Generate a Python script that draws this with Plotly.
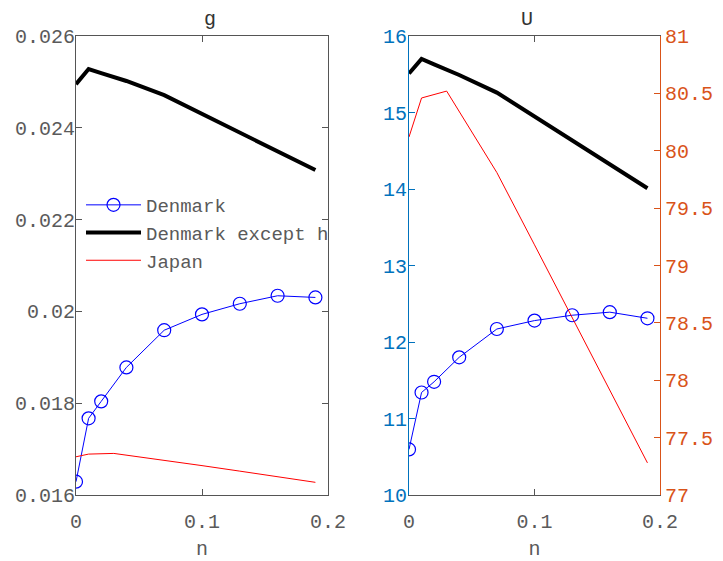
import plotly.graph_objects as go

# sample grid
n_dk = [0, 0.01, 0.02, 0.04, 0.07, 0.1, 0.13, 0.16, 0.19]
n_jp = [0, 0.01, 0.03, 0.07, 0.1, 0.13, 0.16, 0.19]

# growth rate g
g_denmark = [0.01629, 0.01767, 0.01804, 0.01878, 0.01959, 0.019935, 0.020167, 0.020341, 0.020304]
g_denmark_ex_h = [0.02495, 0.02528, 0.02519, 0.02502, 0.02471, 0.0243, 0.02388, 0.02347, 0.02308]
g_japan = [0.016833, 0.016891, 0.016906, 0.01676, 0.01664, 0.01652, 0.0164, 0.016276]

# welfare U
U_denmark = [10.596, 11.34, 11.48, 11.80, 12.17, 12.28, 12.35, 12.39, 12.31]
U_denmark_ex_h = [15.51, 15.70, 15.63, 15.49, 15.26, 14.95, 14.635, 14.32, 14.01]
U_japan = [80.12, 80.46, 80.52, 79.81, 79.18, 78.545, 77.91, 77.28]

FONT = "Liberation Mono, Courier New, monospace"
AX = "#555555"
TXT = "#5a5a5a"
BLUE_AX = "#0072BD"
ORANGE_AX = "#D95319"
W, H = 723, 561

fig = go.Figure()

# left panel: g
fig.add_trace(go.Scatter(x=n_dk, y=g_denmark, name="Denmark", mode="lines+markers",
                         line=dict(color="#0000FF", width=1),
                         marker=dict(symbol="circle-open", size=13, color="#0000FF", line=dict(width=1.2)),
                         xaxis="x", yaxis="y"))
fig.add_trace(go.Scatter(x=n_dk, y=g_denmark_ex_h, name="Denmark except h", mode="lines",
                         line=dict(color="#000000", width=4), xaxis="x", yaxis="y"))
fig.add_trace(go.Scatter(x=n_jp, y=g_japan, name="Japan", mode="lines",
                         line=dict(color="#FF0000", width=1), xaxis="x", yaxis="y"))

# right panel: U (Japan on the right-hand axis)
fig.add_trace(go.Scatter(x=n_dk, y=U_denmark, name="Denmark", mode="lines+markers", showlegend=False,
                         line=dict(color="#0000FF", width=1),
                         marker=dict(symbol="circle-open", size=13, color="#0000FF", line=dict(width=1.2)),
                         xaxis="x2", yaxis="y2"))
fig.add_trace(go.Scatter(x=n_dk, y=U_denmark_ex_h, name="Denmark except h", mode="lines", showlegend=False,
                         line=dict(color="#000000", width=4), xaxis="x2", yaxis="y2"))
fig.add_trace(go.Scatter(x=n_jp, y=U_japan, name="Japan", mode="lines", showlegend=False,
                         line=dict(color="#FF0000", width=1), xaxis="x2", yaxis="y3"))

xd1 = [76 / W, 328 / W]
xd2 = [409 / W, 660 / W]
yd = [1 - 495 / H, 1 - 36 / H]

tickfont = dict(family=FONT, size=20, color=TXT)
common_x = dict(range=[0, 0.2], dtick=0.1, tick0=0, ticks="inside", ticklen=6, tickcolor=AX,
                showline=True, linecolor=AX, linewidth=1, mirror="ticks", showgrid=False,
                zeroline=False, tickfont=tickfont, automargin=False, ticklabelstandoff=8,
                title=dict(text="n", font=dict(family=FONT, size=20, color=TXT), standoff=12))
common_y = dict(ticks="inside", ticklen=6, showline=True, linewidth=1, showgrid=False,
                zeroline=False, automargin=False)

fig.update_layout(
    width=W, height=H,
    margin=dict(l=0, r=0, t=0, b=0, autoexpand=False),
    paper_bgcolor="white", plot_bgcolor="white",
    font=dict(family=FONT, color=TXT),
    xaxis=dict(domain=xd1, anchor="y", **common_x),
    yaxis=dict(domain=yd, anchor="x", range=[0.016, 0.026], dtick=0.002, tick0=0.016,
               tickcolor=AX, linecolor=AX, mirror="ticks", tickfont=tickfont,
               ticklabelstandoff=-4, **common_y),
    xaxis2=dict(domain=xd2, anchor="y2", **common_x),
    yaxis2=dict(domain=yd, anchor="x2", range=[10, 16], dtick=1, tick0=10,
                tickcolor=BLUE_AX, linecolor=BLUE_AX, ticklabelstandoff=-3,
                tickfont=dict(family=FONT, size=20, color=BLUE_AX), **common_y),
    yaxis3=dict(domain=yd, anchor="x2", overlaying="y2", side="right", range=[77, 81], dtick=0.5,
                tick0=77, tickcolor=ORANGE_AX, linecolor=ORANGE_AX, ticklabelstandoff=0,
                tickfont=dict(family=FONT, size=20, color=ORANGE_AX), **common_y),
    legend=dict(x=81 / W, y=1 - 186 / H, xanchor="left", yanchor="top",
                bgcolor="rgba(0,0,0,0)", borderwidth=0, itemwidth=55,
                font=dict(family=FONT, size=19, color=TXT), tracegroupgap=0),
    showlegend=True,
    annotations=[
        dict(text="g", x=(xd1[0] + xd1[1]) / 2, y=1 - 33 / H, xref="paper", yref="paper",
             yanchor="bottom", showarrow=False, font=dict(family=FONT, size=20, color="#333333")),
        dict(text="U", x=(xd2[0] + xd2[1]) / 2, y=1 - 33 / H, xref="paper", yref="paper",
             yanchor="bottom", showarrow=False, font=dict(family=FONT, size=20, color="#333333")),
    ],
)

fig.write_html("out.html")
